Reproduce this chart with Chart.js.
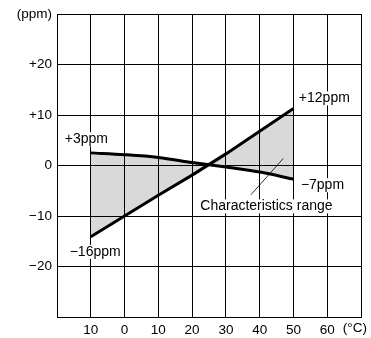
<!DOCTYPE html>
<html>
<head>
<meta charset="utf-8">
<script src="https://cdn.jsdelivr.net/npm/chart.js@4.4.1/dist/chart.umd.min.js"></script>
<style>
  html, body { margin: 0; background: #fff; }
  #wrap { width: 371px; height: 338px; }
</style>
</head>
<body>
<div id="wrap"><canvas id="tempChart"></canvas></div>
<script>
// temperature (°C) and frequency deviation (ppm)
const temps = [-10, 0, 10, 20, 30, 40, 50];
const upperCurve = [2.5, 2.15, 1.6, 0.6, -0.3, -1.3, -2.7];
const straightLine = [-14.1, -10, -5.9, -1.9, 2.3, 6.8, 11.3];

const yTickText = { "30": "(ppm)", "20": "+20", "10": "+10", "0": "0", "-10": "\u221210", "-20": "\u221220", "-30": "" };
const xTickText = { "-20": "", "-10": "10", "0": "0", "10": "10", "20": "20", "30": "30", "40": "40", "50": "50", "60": "60", "70": "" };

// end-point labels, in chart units
const notes = [
  { text: "+3ppm", x: -11.3, y: 5.2, align: "center" },
  { text: "\u221216ppm", x: -8.7, y: -17.1, align: "center" },
  { text: "+12ppm", x: 51.6, y: 13.3, align: "left" },
  { text: "\u22127ppm", x: 52.2, y: -3.9, align: "left" },
  { text: "Characteristics range", x: 42.0, y: -8.1, align: "center" },
];
const leader = [[37.4, -5.8], [47.0, 1.4]];

const FAMILY = '"Liberation Sans", Arial, sans-serif';

const notesPlugin = {
  id: "notes",
  afterDatasetsDraw(chart) {
    const c = chart.ctx, xs = chart.scales.x, ys = chart.scales.y;
    c.save();
    // leader line for the range label
    c.strokeStyle = "#000";
    c.lineWidth = 0.8;
    c.beginPath();
    c.moveTo(xs.getPixelForValue(leader[0][0]), ys.getPixelForValue(leader[0][1]));
    c.lineTo(xs.getPixelForValue(leader[1][0]), ys.getPixelForValue(leader[1][1]));
    c.stroke();

    c.font = "14px " + FAMILY;
    c.textBaseline = "middle";
    notes.forEach(n => {
      const px = xs.getPixelForValue(n.x), py = ys.getPixelForValue(n.y);
      const w = c.measureText(n.text).width;
      const left = n.align === "center" ? px - w / 2 : px;
      c.fillStyle = "#fff";
      c.fillRect(left - 1, py - 7, w + 2, 14);
      c.fillStyle = "#000";
      c.textAlign = "left";
      c.fillText(n.text, left, py);
    });

    // unit of the x axis
    c.font = "13.5px " + FAMILY;
    c.textAlign = "center";
    c.textBaseline = "top";
    c.fillText("(\u00b0C)", xs.getPixelForValue(68.2), chart.chartArea.bottom + 5);
    c.restore();
  }
};

const ctx = document.getElementById("tempChart").getContext("2d");
const chart = new Chart(ctx, {
  type: "line",
  data: {
    labels: temps,
    datasets: [
      {
        data: upperCurve,
        borderColor: "#000",
        borderWidth: 3,
        cubicInterpolationMode: "monotone",
        pointRadius: 0,
        fill: "+1",
        backgroundColor: "rgba(0,0,0,0.15)",
      },
      {
        data: straightLine,
        borderColor: "#000",
        borderWidth: 3,
        pointRadius: 0,
        fill: false,
      },
    ],
  },
  options: {
    responsive: true,
    maintainAspectRatio: false,
    animation: false,
    layout: { padding: { left: 0, right: 10, top: 14, bottom: 0 } },
    scales: {
      x: {
        type: "linear",
        min: -20,
        max: 70,
        afterFit: s => { s.height = 21; },
        ticks: {
          stepSize: 10,
          color: "#000",
          font: { family: FAMILY, size: 13.5 },
          padding: 5,
          maxRotation: 0,
          callback: v => xTickText[String(v)] ?? "",
        },
        grid: { color: "#000", lineWidth: 1, drawTicks: false },
        border: { color: "#000", width: 1 },
      },
      y: {
        min: -30,
        max: 30,
        afterFit: s => { s.width = 57; },
        ticks: {
          stepSize: 10,
          color: "#000",
          font: { family: FAMILY, size: 13.5 },
          padding: 5,
          callback: v => yTickText[String(v)] ?? "",
        },
        grid: { color: "#000", lineWidth: 1, drawTicks: false },
        border: { color: "#000", width: 1 },
      },
    },
    plugins: {
      legend: { display: false },
      tooltip: { enabled: false },
    },
  },
  plugins: [notesPlugin],
});
</script>
</body>
</html>
